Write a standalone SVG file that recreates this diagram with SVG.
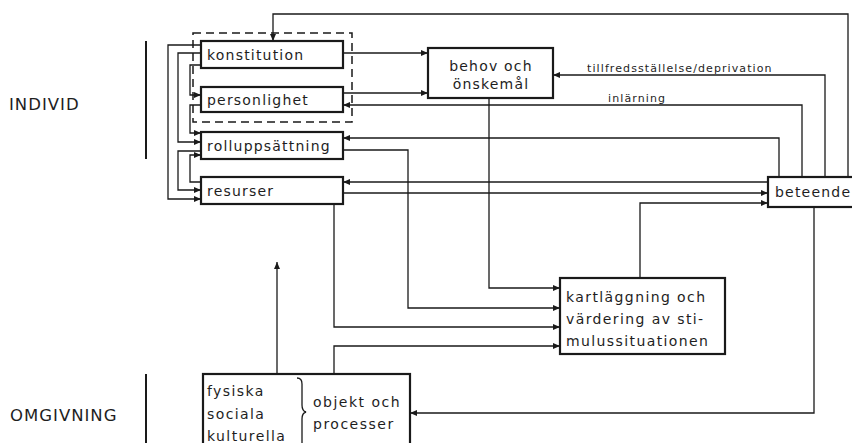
<svg xmlns="http://www.w3.org/2000/svg" width="852" height="443" viewBox="0 0 852 443">
<defs>
<marker id="ah" markerUnits="userSpaceOnUse" markerWidth="8" markerHeight="6" refX="7" refY="3" orient="auto">
<path d="M0,0 L7,3 L0,6 z" fill="#1a1a1a"/>
</marker>
<style>
text{font-family:"DejaVu Sans","Liberation Sans",sans-serif;fill:#1e1e1e}
.box{fill:#fff;stroke:#1a1a1a;stroke-width:2.2}
.bt{font-size:14px;letter-spacing:1.2px}
.lbl{font-size:11px;letter-spacing:1.1px}
.side{font-size:16.5px;letter-spacing:1px}
.c{fill:none;stroke:#1a1a1a;stroke-width:1.3;marker-end:url(#ah)}
.cn{fill:none;stroke:#1a1a1a;stroke-width:1.3}
.bar{stroke:#1a1a1a;stroke-width:2}
</style>
</defs>
<rect width="852" height="443" fill="#fff"/>

<g id="side-labels">
<text class="side" x="9" y="110">INDIVID</text>
<line class="bar" x1="146" y1="41" x2="146" y2="159"/>
<text class="side" x="10" y="421">OMGIVNING</text>
<line class="bar" x1="146" y1="374" x2="146" y2="443"/>
</g>

<g id="dashed-group">
<rect x="193" y="33" width="159" height="89" fill="none" stroke="#1a1a1a" stroke-width="1.5" stroke-dasharray="8 5"/>
</g>

<g id="konstitution">
<rect class="box" x="201" y="41" width="142" height="27"/>
<text class="bt" x="207" y="60">konstitution</text>
</g>
<g id="personlighet">
<rect class="box" x="201" y="87" width="142" height="25"/>
<text class="bt" x="207" y="105">personlighet</text>
</g>
<g id="rolluppsattning">
<rect class="box" x="201" y="132" width="142" height="27"/>
<text class="bt" x="207" y="151">rolluppsättning</text>
</g>
<g id="resurser">
<rect class="box" x="201" y="177" width="142" height="27"/>
<text class="bt" x="207" y="196">resurser</text>
</g>
<g id="behov">
<rect class="box" x="428" y="48" width="125" height="50"/>
<text class="bt" x="491" y="71" text-anchor="middle">behov och</text>
<text class="bt" x="491" y="89" text-anchor="middle">önskemål</text>
</g>
<g id="beteende">
<rect class="box" x="768" y="177" width="90" height="30"/>
<text class="bt" x="775" y="197">beteende</text>
</g>
<g id="kartlaggning">
<rect class="box" x="560" y="278" width="165" height="76"/>
<text class="bt" x="566" y="302" style="letter-spacing:1.4px">kartläggning och</text>
<text class="bt" x="566" y="324" style="letter-spacing:1.4px">värdering av sti-</text>
<text class="bt" x="566" y="346" style="letter-spacing:1.4px">mulussituationen</text>
</g>
<g id="omgivning">
<rect class="box" x="203" y="374" width="207" height="75"/>
<text class="bt" x="207" y="396" style="letter-spacing:1.4px">fysiska</text>
<text class="bt" x="207" y="419" style="letter-spacing:1.4px">sociala</text>
<text class="bt" x="207" y="441" style="letter-spacing:1.4px">kulturella</text>
<path d="M297,378 Q302,378 302,384 V405 Q302,411 306,412 Q302,413 302,419 V443" fill="none" stroke="#1a1a1a" stroke-width="1.3"/>
<text class="bt" x="313" y="407" style="letter-spacing:1.5px">objekt och</text>
<text class="bt" x="313" y="429" style="letter-spacing:1.5px">processer</text>
</g>

<g id="connectors">
<path class="c" d="M201,45 H168 V199 H201"/>
<path class="c" d="M201,53 H178 V142 H201"/>
<path class="c" d="M201,65 H190 V95 H201"/>
<path class="c" d="M201,105 H190 V133 H201"/>
<path class="c" d="M201,151 H178 V190 H201"/>
<path class="c" d="M201,182 H190 V155 H201"/>
<path class="c" d="M848,177 V14 H273 V41"/>
<path class="c" d="M343,53 H428"/>
<path class="c" d="M343,93 H428"/>
<path class="c" d="M825,177 V75 H553"/>
<path class="c" d="M802,177 V105 H343"/>
<path class="c" d="M779,177 V138 H343"/>
<path class="c" d="M768,182 H343"/>
<path class="c" d="M343,193 H768"/>
<path class="c" d="M640,278 V203 H768"/>
<path class="c" d="M489,98 V288 H560"/>
<path class="c" d="M343,150 H408 V308 H560"/>
<path class="c" d="M334,204 V327 H560"/>
<path class="c" d="M334,374 V346 H560"/>
<path class="c" d="M814,207 V413 H410"/>
<path class="c" d="M277,374 V262"/>
<text class="lbl" x="587" y="72">tillfredsställelse/deprivation</text>
<text class="lbl" x="608" y="102">inlärning</text>
</g>
</svg>
